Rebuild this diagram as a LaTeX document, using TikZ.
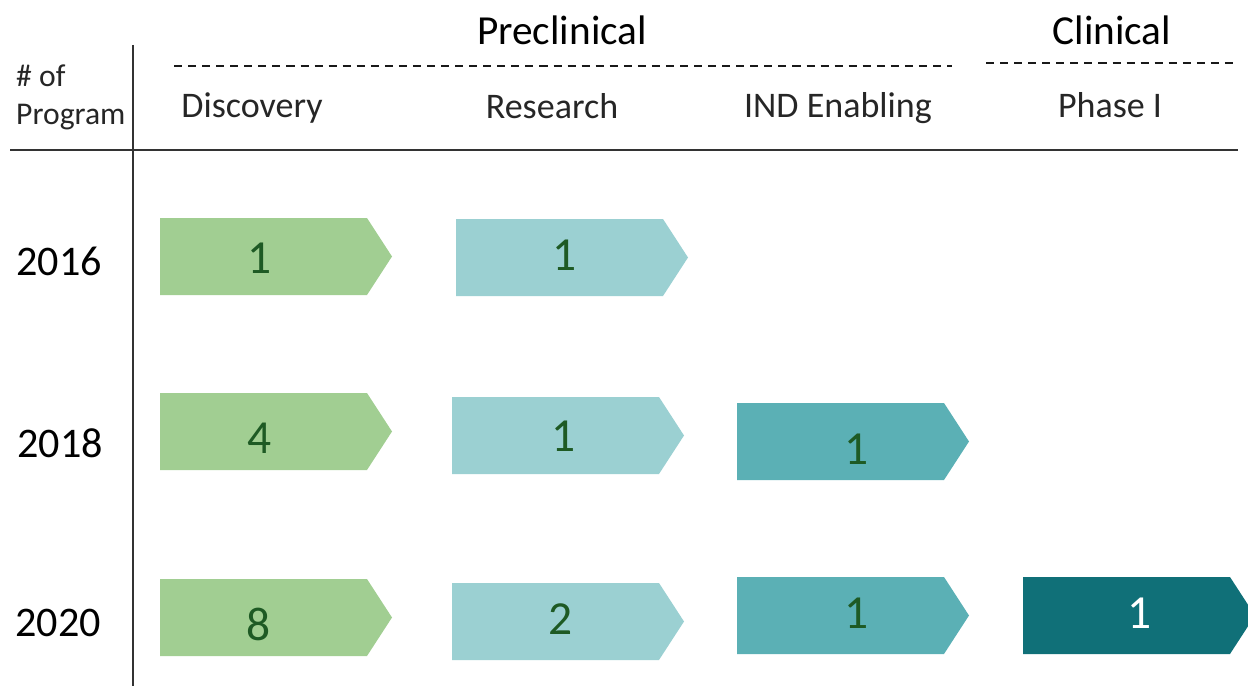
\documentclass[tikz,border=0pt]{standalone}
\usepackage{fontspec}
\setmainfont{Carlito}
\definecolor{discgreen}{HTML}{A1CE92}
\definecolor{resteal}{HTML}{9BD0D2}
\definecolor{indteal}{HTML}{5BB0B5}
\definecolor{phaseteal}{HTML}{107078}
\definecolor{numgreen}{HTML}{1E5A24}
\begin{document}
\begin{tikzpicture}[x=0.02cm, y=-0.02cm,
  rule/.style={draw=black!80, line width=1.1pt},
  phaserule/.style={draw=black!90, line width=1pt, dash pattern=on 4.6pt off 3.4pt},
  phasehead/.style={anchor=base, font=\fontsize{23.5}{23.5}\selectfont},
  stagehead/.style={anchor=base, font=\fontsize{20.5}{20.5}\selectfont, text=black!85},
  year/.style={anchor=base, font=\fontsize{24}{24}\selectfont},
  count/.style={font=\fontsize{27}{27}\selectfont, text=numgreen}]
  \useasboundingbox (0,0) rectangle (1248,686);
  \clip (0,0) rectangle (1248,686);
  % table lines
  \draw[rule] (133,45) -- (133,686);
  \draw[rule] (10,150) -- (1238,150);
  % headers
  \node[phasehead] (pre) at (562,45) {Preclinical};
  \node[phasehead] (cli) at (1112,45) {Clinical};
  \draw[phaserule] (174,66) -- (952,66);
  \draw[phaserule] (986,63) -- (1234,63);
  \node[anchor=base west, font=\fontsize{18}{18}\selectfont, text=black!85] (nof) at (10,87) {\# of};
  \node[anchor=base west, font=\fontsize{18}{18}\selectfont, text=black!85] (prog) at (10,125) {Program};
  \node[stagehead] (disc) at (252,118) {Discovery};
  \node[stagehead] (res) at (552,119) {Research};
  \node[stagehead] (ind) at (838,118) {IND Enabling};
  \node[stagehead] (ph1) at (1110,118) {Phase I};
  % years
  \node[year] (y16) at (59,275) {2016};
  \node[year] (y18) at (60,457) {2018};
  \node[year] (y20) at (58,636) {2020};
  % chevrons
  \foreach \x/\y/\c in {160/218/discgreen, 456/219/resteal,
      160/393/discgreen, 452/397/resteal, 737/403/indteal,
      160/579/discgreen, 452/583/resteal, 737/577/indteal, 1023/577/phaseteal}
    \fill[\c] (\x,\y) -- ++(207,0) -- ++(25,38.5) -- ++(-25,38.5) -- ++(-207,0) -- cycle;
  % counts
  \node[count] (d16) at (260,258) {1};
  \node[count] (r16) at (565,255) {1};
  \node[count] (d18) at (260,438) {4};
  \node[count] (r18) at (564,436) {1};
  \node[count] (i18) at (857,449) {1};
  \node[count] (d20) at (259,624) {8};
  \node[count] (r20) at (561,619) {2};
  \node[count] (i20) at (857,613) {1};
  \node[count, text=white] (p20) at (1140,613) {1};
\end{tikzpicture}
\end{document}
